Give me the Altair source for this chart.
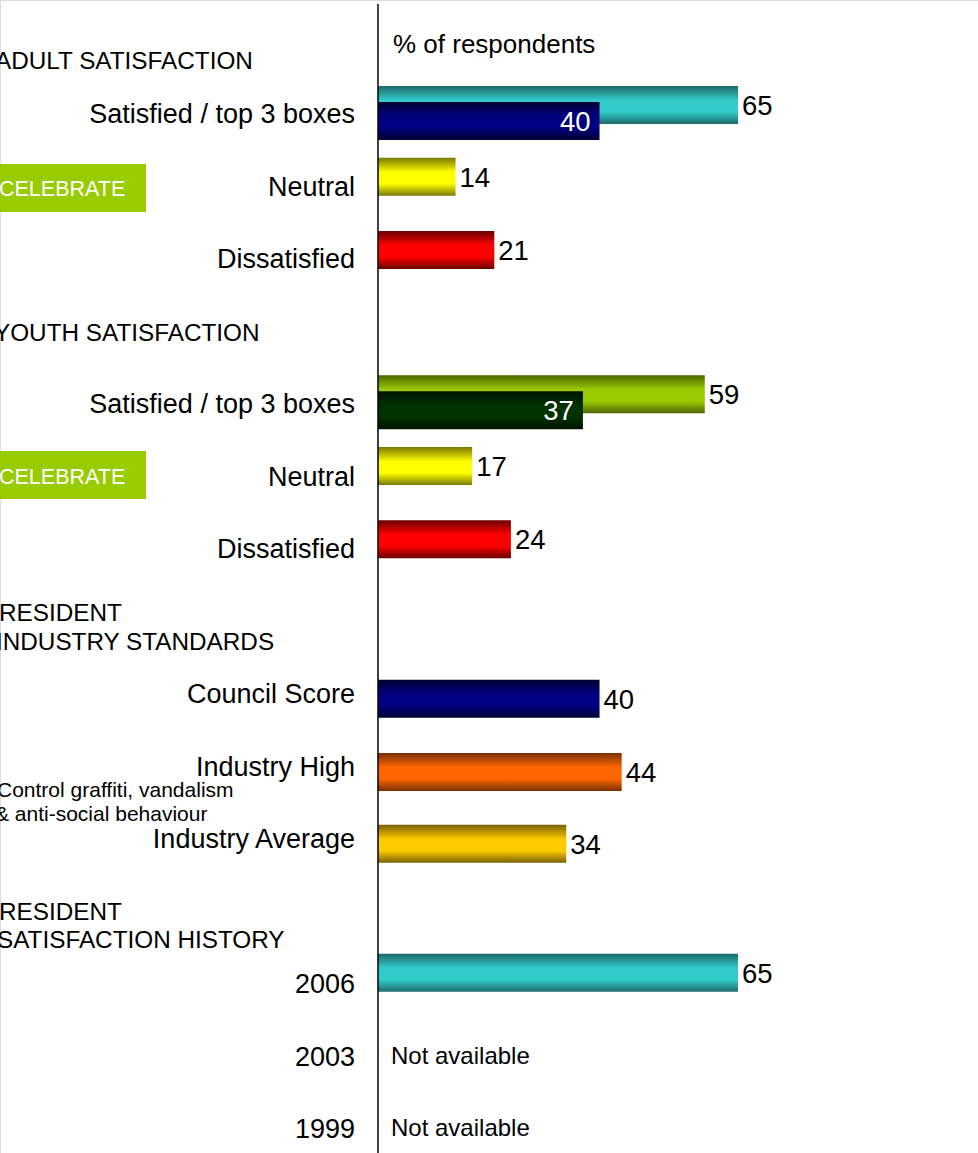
import altair as alt
import pandas as pd

FONT = "Liberation Sans"

# ---------------- data ----------------
categories = ["Satisfied / top 3 boxes", "Neutral", "Dissatisfied",
              "Satisfied / top 3 boxes", "Neutral", "Dissatisfied",
              "Council Score", "Industry High", "Industry Average",
              "2006", "2003", "1999"]
label_rows = [0, 1, 2, 4, 5, 6, 8, 9, 10, 12, 13, 14]

bar_values = [65, 40, 14, 21, 59, 37, 17, 24, 40, 44, 34, 65]
bar_tones = ["teal", "navy", "yellow", "red", "lime", "darkgreen",
             "yellow", "red", "navy", "orange", "gold", "teal"]
bar_label_inside = [False, True, False, False, False, True,
                    False, False, False, False, False, False]

na_labels = ["Not available", "Not available"]
na_rows = [13, 14]

# ---------------- layout (row positions of bars) ----------------
bar_rows = [-0.11, 0.11, 0.88, 1.89, 3.88, 4.10, 4.87, 5.88, 8.08, 9.09, 10.08, 11.86]

palette = {
    "teal": ("#1c6a6a", "#33cccc"),
    "navy": ("#000030", "#000080"),
    "yellow": ("#7a7a00", "#ffff00"),
    "red": ("#6a0000", "#ff0000"),
    "lime": ("#4c6600", "#99cc00"),
    "darkgreen": ("#001200", "#003300"),
    "orange": ("#7a3000", "#ff6600"),
    "gold": ("#7a6000", "#ffcc00"),
}
tone_order = ["teal", "lime", "yellow", "red", "orange", "gold", "navy", "darkgreen"]


def grad(tone):
    dark, bright = palette[tone]
    return alt.Gradient(
        gradient="linear", x1=0, y1=0, x2=0, y2=1,
        stops=[alt.GradientStop(color=dark, offset=0),
               alt.GradientStop(color=bright, offset=0.38),
               alt.GradientStop(color=bright, offset=0.68),
               alt.GradientStop(color=dark, offset=1)])


bars_df = pd.DataFrame({"row": bar_rows, "value": bar_values,
                        "tone": bar_tones, "inside": bar_label_inside})
labels_df = pd.DataFrame({"label": categories, "row": label_rows})
na_df = pd.DataFrame({"label": na_labels, "row": na_rows, "value": [0, 0]})
one = pd.DataFrame({"a": [0]})

X = alt.X("value:Q", scale=alt.Scale(domain=[0, 65], range=[378, 738], padding=0), axis=None)
Y = alt.Y("row:Q", scale=alt.Scale(domain=[0, 14], range=[113, 1128], nice=False, zero=False, padding=0),
          axis=None)

layers = []

# CELEBRATE boxes
for y0, y1 in [(164, 212), (451, 499)]:
    layers.append(alt.Chart(one).mark_rect(color="#99cc00").encode(
        x=alt.value(0), x2=alt.value(146), y=alt.value(y0), y2=alt.value(y1)))

# bars
for tone in tone_order:
    layers.append(alt.Chart(bars_df).transform_filter(alt.datum.tone == tone)
                  .mark_bar(orient="horizontal", size=38, color=grad(tone))
                  .encode(x=X, y=Y))

# vertical axis line
layers.append(alt.Chart(one).mark_rule(color="black", strokeWidth=1.5).encode(
    x=alt.value(378), y=alt.value(4), y2=alt.value(1153)))

# value labels
layers.append(alt.Chart(bars_df).transform_filter("!datum.inside")
              .mark_text(align="left", baseline="middle", dx=4, dy=2, fontSize=27.5, font=FONT, color="black")
              .encode(x=X, y=Y, text=alt.Text("value:Q")))
layers.append(alt.Chart(bars_df).transform_filter("datum.inside")
              .mark_text(align="right", baseline="middle", dx=-9, dy=2, fontSize=27.5, font=FONT, color="white")
              .encode(x=X, y=Y, text=alt.Text("value:Q")))

# not available
layers.append(alt.Chart(na_df)
              .mark_text(align="left", baseline="middle", dx=13, dy=1, fontSize=24, font=FONT, color="black")
              .encode(x=X, y=Y, text="label:N"))

# category labels
layers.append(alt.Chart(labels_df)
              .mark_text(align="right", baseline="middle", dy=2, fontSize=27, font=FONT, color="black")
              .encode(x=alt.value(355), y=Y, text="label:N"))


def note(text, x, y, size, color="black"):
    return alt.Chart(one).mark_text(align="left", baseline="middle", dy=2, fontSize=size,
                                    font=FONT, color=color).encode(
        x=alt.value(x), y=alt.value(y), text=alt.value(text))


layers += [
    note("% of respondents", 393, 43, 26),
    note("ADULT SATISFACTION", -5, 60, 24.3),
    note("YOUTH SATISFACTION", -6, 332, 24.3),
    note("RESIDENT", -1, 612, 24.3),
    note("INDUSTRY STANDARDS", -4, 641, 24.3),
    note("RESIDENT", -1, 911, 24.3),
    note("SATISFACTION HISTORY", -3, 939, 24.3),
    note("CELEBRATE", -1, 188, 21.5, "white"),
    note("CELEBRATE", -1, 476, 21.5, "white"),
    note("Control graffiti, vandalism", -3, 789, 21),
    note("& anti-social behaviour", -5, 813, 21),
]

chart = alt.layer(*layers).properties(
    width=978, height=1153,
    autosize=alt.AutoSizeParams(type="none"),
    padding=0,
).configure_view(stroke=None).configure(background="white")

chart.save("out.html", embed_options={"renderer": "svg", "actions": False})
